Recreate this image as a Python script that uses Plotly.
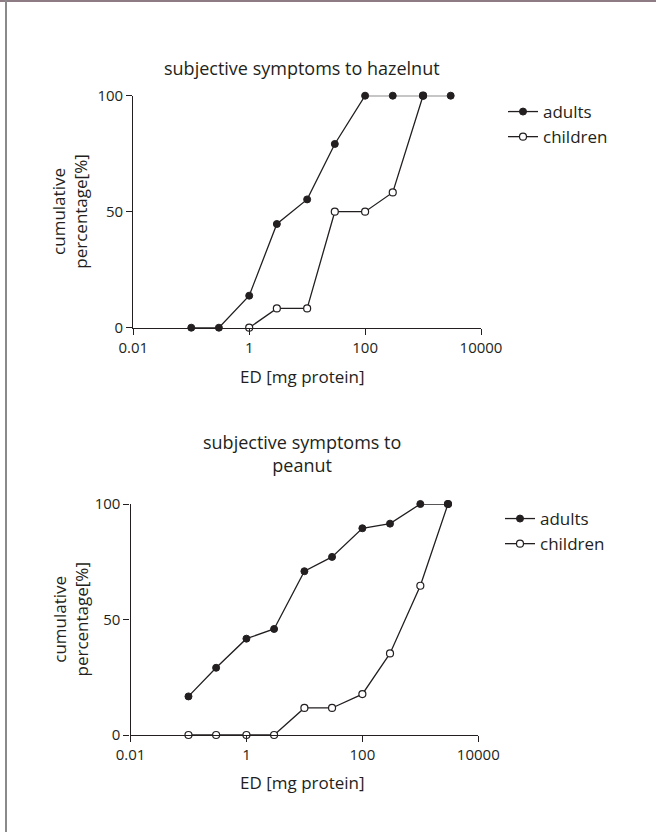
import plotly.graph_objects as go

W, H = 656, 832

# ---- data ----
doses = [0.1, 0.3, 1, 3, 10, 30, 100, 300, 1000, 3000]
hazelnut_adults = [0, 0, 13.8, 44.7, 55.3, 79.2, 100, 100, 100, 100]
hazelnut_children_doses = [1, 3, 10, 30, 100, 300, 1000]
hazelnut_children = [0, 8.3, 8.3, 50, 50, 58.3, 100]
peanut_adults = [16.7, 29.1, 41.7, 45.9, 70.9, 77.1, 89.5, 91.5, 100, 100]
peanut_children = [0, 0, 0, 0, 11.7, 11.7, 17.7, 35.3, 64.6, 100]

x_tickvals = [0.01, 1, 100, 10000]
x_ticktext = ["0.01", "1", "100", "10000"]
y_tickvals = [0, 50, 100]
y_ticktext = ["0", "50", "100"]

titles = ["subjective symptoms to hazelnut", "subjective symptoms to<br>peanut"]
x_title = "ED [mg protein]"
y_title = "cumulative<br>percentage[%]"
series_names = ["adults", "children"]

FONT = "Open Sans"
INK = "#231f20"

def px(x):
    return x / W

def py(y):
    return 1 - y / H

fig = go.Figure()

line_style = dict(color=INK, width=1.3)
filled = dict(symbol="circle", size=7, color=INK, line=dict(color=INK, width=1))
hollow = dict(symbol="circle", size=7, color="white", line=dict(color=INK, width=1.2))

# hazelnut (axes 1)
fig.add_trace(go.Scatter(x=hazelnut_children_doses, y=hazelnut_children, mode="lines+markers",
                         name=series_names[1], line=line_style, marker=hollow, cliponaxis=False,
                         xaxis="x", yaxis="y", legend="legend", legendrank=2))
fig.add_trace(go.Scatter(x=doses, y=hazelnut_adults, mode="lines+markers",
                         name=series_names[0], line=line_style, marker=filled, cliponaxis=False,
                         xaxis="x", yaxis="y", legend="legend", legendrank=1))
# peanut (axes 2)
fig.add_trace(go.Scatter(x=doses, y=peanut_children, mode="lines+markers",
                         name=series_names[1], line=line_style, marker=hollow, cliponaxis=False,
                         xaxis="x2", yaxis="y2", legend="legend2", legendrank=2))
fig.add_trace(go.Scatter(x=doses, y=peanut_adults, mode="lines+markers",
                         name=series_names[0], line=line_style, marker=filled, cliponaxis=False,
                         xaxis="x2", yaxis="y2", legend="legend2", legendrank=1))

def xaxis(domain, anchor):
    return dict(type="log", range=[-2, 4], domain=domain, anchor=anchor,
                tickvals=x_tickvals, ticktext=x_ticktext, ticks="outside", ticklen=6,
                tickwidth=1.2, tickcolor=INK, showline=True, linecolor=INK, linewidth=1.2,
                showgrid=False, zeroline=False, automargin=False,
                tickfont=dict(family=FONT, size=15, color=INK))

def yaxis(domain, anchor):
    return dict(range=[0, 100], domain=domain, anchor=anchor,
                tickvals=y_tickvals, ticktext=y_ticktext, ticks="outside", ticklen=6,
                tickwidth=1.2, tickcolor=INK, showline=True, linecolor=INK, linewidth=1.2,
                showgrid=False, zeroline=False, automargin=False,
                tickfont=dict(family=FONT, size=15, color=INK))

legend_common = dict(font=dict(family=FONT, size=17, color=INK), bgcolor="rgba(0,0,0,0)",
                     borderwidth=0, xanchor="left", yanchor="top", itemwidth=30,
                     tracegroupgap=0)

fig.update_layout(
    width=W, height=H,
    margin=dict(l=0, r=0, t=0, b=0, pad=0, autoexpand=False),
    paper_bgcolor="white", plot_bgcolor="white",
    font=dict(family=FONT, color=INK),
    xaxis=xaxis([px(133.3), px(481)], "y"),
    yaxis=yaxis([py(327.7), py(95.7)], "x"),
    xaxis2=xaxis([px(130.5), px(478.3)], "y2"),
    yaxis2=yaxis([py(735), py(504)], "x2"),
    legend=dict(x=px(503), y=py(94), **legend_common),
    legend2=dict(x=px(500), y=py(501), **legend_common),
    showlegend=True,
)

annotations = [
    dict(text=titles[0], x=px(302), y=py(68), xref="paper", yref="paper",
         showarrow=False, font=dict(family=FONT, size=18, color=INK), xanchor="center", yanchor="middle"),
    dict(text=titles[1], x=px(302), y=py(454), xref="paper", yref="paper",
         showarrow=False, font=dict(family=FONT, size=18, color=INK), xanchor="center", yanchor="middle"),
    dict(text=x_title, x=px(302), y=py(376.7), xref="paper", yref="paper",
         showarrow=False, font=dict(family=FONT, size=17, color=INK), xanchor="center", yanchor="middle"),
    dict(text=x_title, x=px(302), y=py(782.3), xref="paper", yref="paper",
         showarrow=False, font=dict(family=FONT, size=17, color=INK), xanchor="center", yanchor="middle"),
    dict(text=y_title, x=px(70), y=py(211.7), xref="paper", yref="paper", textangle=-90,
         showarrow=False, font=dict(family=FONT, size=17, color=INK), xanchor="center", yanchor="middle"),
    dict(text=y_title, x=px(70), y=py(619.5), xref="paper", yref="paper", textangle=-90,
         showarrow=False, font=dict(family=FONT, size=17, color=INK), xanchor="center", yanchor="middle"),
]
fig.update_layout(annotations=annotations)

# page frame (top and left edges)
fig.update_layout(shapes=[
    dict(type="line", xref="paper", yref="paper", x0=0, x1=1, y0=py(1), y1=py(1),
         line=dict(color="#8e7c84", width=2)),
    dict(type="line", xref="paper", yref="paper", x0=px(6), x1=px(6), y0=0, y1=1,
         line=dict(color="#8a8a8a", width=2)),
])

fig.write_html("out.html")
